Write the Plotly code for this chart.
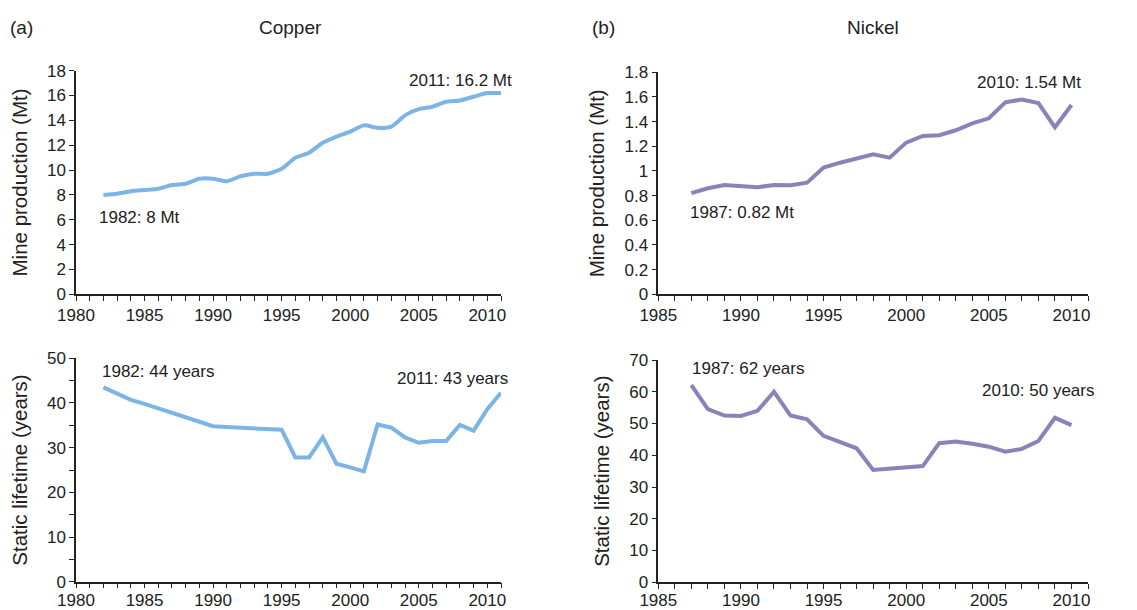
import plotly.graph_objects as go

# copper (a)
cu_years = list(range(1982, 2012))
cu_production = [8.0, 8.1, 8.3, 8.4, 8.5, 8.8, 8.9, 9.3, 9.3, 9.1,
                 9.5, 9.7, 9.7, 10.1, 11.0, 11.4, 12.2, 12.7, 13.1, 13.6,
                 13.4, 13.5, 14.4, 14.9, 15.1, 15.5, 15.6, 15.9, 16.2, 16.2]
cu_lifetime = [43.5, 42.0, 40.7, 39.8, 38.8, 37.8, 36.8, 35.8, 34.8, 34.6,
               34.5, 34.4, 34.3, 34.0, 27.8, 27.8, 32.3, 26.4, 25.6, 24.7,
               35.2, 34.5, 32.3, 31.1, 31.5, 31.5, 35.1, 33.8, 38.6, 42.3]

# nickel (b)
ni_years = list(range(1987, 2011))
ni_production = [0.82, 0.86, 0.886, 0.876, 0.868, 0.886, 0.884, 0.905, 1.027, 1.067,
                 1.10, 1.135, 1.108, 1.23, 1.284, 1.29, 1.33, 1.386, 1.427, 1.557,
                 1.58, 1.55, 1.354, 1.535]
ni_lifetime = [62.1, 54.5, 52.5, 52.4, 54.0, 60.0, 52.5, 51.3, 46.1, 44.2,
               42.2, 35.4, 35.7, 36.1, 36.6, 43.8, 44.3, 43.6, 42.7, 41.1,
               42.0, 44.5, 51.8, 49.5]

# page body has an 8px margin, so the figure is drawn from (8, 8)
OFF = 8
W, H = 1137 - OFF, 610 - OFF
FONT = "Liberation Sans, Arial, sans-serif"
INK = "#222"
CU_COLOR = "#7db4e6"
NI_COLOR = "#8b82b9"


def px(x):
    return (x - OFF) / W


def py(y):
    return 1 - (y - OFF) / H


fig = go.Figure()
fig.add_trace(go.Scatter(x=cu_years, y=cu_production, mode="lines",
                         line=dict(color=CU_COLOR, width=4, shape="spline", smoothing=0.6),
                         xaxis="x", yaxis="y"))
fig.add_trace(go.Scatter(x=cu_years, y=cu_lifetime, mode="lines",
                         line=dict(color=CU_COLOR, width=4),
                         xaxis="x2", yaxis="y2"))
fig.add_trace(go.Scatter(x=ni_years, y=ni_production, mode="lines",
                         line=dict(color=NI_COLOR, width=4),
                         xaxis="x3", yaxis="y3"))
fig.add_trace(go.Scatter(x=ni_years, y=ni_lifetime, mode="lines",
                         line=dict(color=NI_COLOR, width=4),
                         xaxis="x4", yaxis="y4"))

axis_common = dict(showgrid=False, zeroline=False, showline=True, linecolor=INK,
                   linewidth=1.5, ticks="outside", ticklen=5, tickcolor=INK,
                   tickwidth=1.2, tickfont=dict(size=17, color=INK), automargin=False)
minor_ticks = dict(ticks="outside", ticklen=5, tickcolor=INK, tickwidth=1.2)


def xaxis(domain, rng, anchor, standoff=0):
    return dict(axis_common, domain=domain, range=rng, anchor=anchor, dtick=5,
                tick0=1980, minor=dict(minor_ticks, dtick=1),
                ticklabelstandoff=standoff)


def yaxis(domain, rng, dtick, anchor, title, minor=None):
    d = dict(axis_common, domain=domain, range=rng, anchor=anchor, dtick=dtick,
             title=dict(text=title, font=dict(size=20.5, color=INK), standoff=14))
    if minor:
        d["minor"] = dict(minor_ticks, dtick=minor)
    return d


left_dom = [px(76), px(501)]
right_dom = [px(658.3), px(1088)]
top_cu = [py(294.3), py(70.7)]
bot_cu = [py(581.7), py(358.3)]
top_ni = [py(294.3), py(72.3)]
bot_ni = [py(582.3), py(360)]

fig.update_layout(
    width=W, height=H,
    margin=dict(l=0, r=0, t=0, b=0),
    paper_bgcolor="white", plot_bgcolor="white",
    showlegend=False,
    font=dict(family=FONT, color=INK),
    xaxis=xaxis(left_dom, [1980, 2011], "y"),
    yaxis=yaxis(top_cu, [0, 18], 2, "x", "Mine production (Mt)"),
    xaxis2=xaxis(left_dom, [1980, 2011], "y2", standoff=-3),
    yaxis2=yaxis(bot_cu, [0, 50], 10, "x2", "Static lifetime (years)", minor=5),
    xaxis3=xaxis(right_dom, [1985, 2011], "y3"),
    yaxis3=yaxis(top_ni, [0, 1.8], 0.2, "x3", "Mine production (Mt)"),
    xaxis4=xaxis(right_dom, [1985, 2011], "y4", standoff=-3),
    yaxis4=yaxis(bot_ni, [0, 70], 10, "x4", "Static lifetime (years)"),
)

labels = [
    ("(a)", 8, 27, "left", 19),
    ("Copper", 290, 27, "center", 19),
    ("(b)", 590, 27, "left", 19),
    ("Nickel", 873, 27, "center", 19),
    ("2011: 16.2 Mt", 407, 80, "left", 17),
    ("1982: 8 Mt", 97, 218, "left", 17),
    ("1982: 44 years", 100, 371, "left", 17),
    ("2011: 43 years", 395, 378, "left", 17),
    ("2010: 1.54 Mt", 975, 83, "left", 17),
    ("1987: 0.82 Mt", 688, 212, "left", 17),
    ("1987: 62 years", 690, 368, "left", 17),
    ("2010: 50 years", 980, 390, "left", 17),
]
for text, x, y, anchor, size in labels:
    fig.add_annotation(text=text, x=px(x), y=py(y), xref="paper", yref="paper",
                       xanchor=anchor, yanchor="middle", showarrow=False,
                       font=dict(size=size, color=INK, family=FONT))

fig.write_html("out.html")
